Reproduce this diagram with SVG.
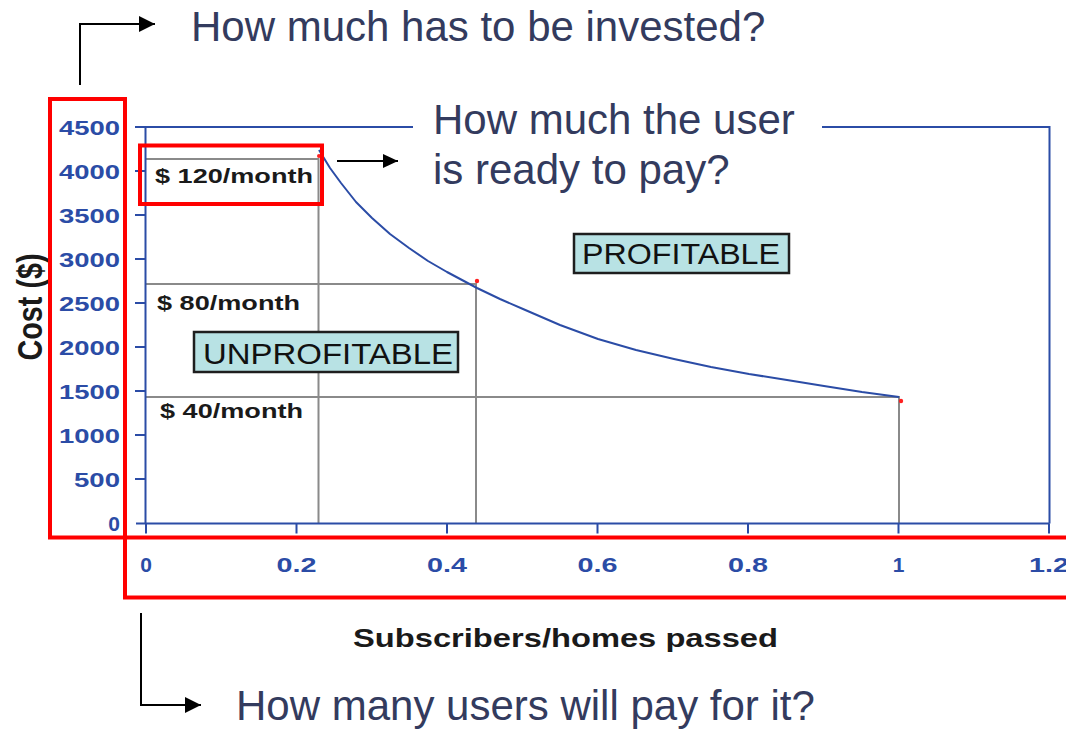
<svg xmlns="http://www.w3.org/2000/svg" width="1066" height="730" viewBox="0 0 1066 730">
<defs>
<marker id="arrow" markerUnits="userSpaceOnUse" markerWidth="16" markerHeight="16" refX="16" refY="8" orient="auto"><path d="M0,0 L16,8 L0,16 z" fill="#000"/></marker>
<marker id="arrow-s" markerUnits="userSpaceOnUse" markerWidth="15" markerHeight="14" refX="15" refY="7" orient="auto"><path d="M0,0 L15,7 L0,14 z" fill="#000"/></marker>
</defs>
<style>
.q{font-family:"Liberation Sans",Arial,sans-serif;font-size:42px;fill:#333b5e}
.ax{fill:none;stroke:#2b4ca6;stroke-width:2}
.tk{font-family:"Liberation Sans",Arial,sans-serif;font-size:21px;font-weight:bold;fill:#2b4ca6}
.ref{stroke:#8a8a8a;stroke-width:2;fill:none}
.lbl{font-family:"Liberation Sans",Arial,sans-serif;font-size:21px;font-weight:bold;fill:#1a1a1a}
.zone{fill:#b8e2e4;stroke:#1e1e1e;stroke-width:2.5}
.zt{font-family:"Liberation Sans",Arial,sans-serif;font-size:30px;fill:#111}
.hl{fill:none;stroke:#ff0000;stroke-width:4}
.conn{fill:none;stroke:#000;stroke-width:2}
.dot{fill:#ff2020}
.curve{fill:none;stroke:#2b4ca6;stroke-width:2;stroke-linejoin:round}
</style>
<rect width="1066" height="730" fill="#fff"/>

<g id="chart">
  <g id="reference-lines">
    <path class="ref" d="M146,159 H318.5 V523.5"/>
    <path class="ref" d="M146,284 H476 V523.5"/>
    <path class="ref" d="M146,397 H899 V523.5"/>
  </g>
  <g id="axes">
    <path class="ax" d="M135,127 H413 M822,127 H1049.5 V523.5"/>
    <path class="ax" d="M145.5,127 V523.5 M136,523.5 H1049.5"/>
    <path class="ax" d="M135,171 h10.5 M135,215 h10.5 M135,259 h10.5 M135,303 h10.5 M135,347 h10.5 M135,391 h10.5 M135,435 h10.5 M135,479 h10.5"/>
    <path class="ax" d="M146,523.5 v10 M296.5,523.5 v10 M447,523.5 v10 M597.5,523.5 v10 M748,523.5 v10 M898.5,523.5 v10 M1049,523.5 v10"/>
  </g>
  <g id="y-labels" text-anchor="end">
    <text class="tk" x="120" y="135" textLength="61" lengthAdjust="spacingAndGlyphs">4500</text>
    <text class="tk" x="120" y="179" textLength="61" lengthAdjust="spacingAndGlyphs">4000</text>
    <text class="tk" x="120" y="223" textLength="61" lengthAdjust="spacingAndGlyphs">3500</text>
    <text class="tk" x="120" y="267" textLength="61" lengthAdjust="spacingAndGlyphs">3000</text>
    <text class="tk" x="120" y="311" textLength="61" lengthAdjust="spacingAndGlyphs">2500</text>
    <text class="tk" x="120" y="355" textLength="61" lengthAdjust="spacingAndGlyphs">2000</text>
    <text class="tk" x="120" y="399" textLength="61" lengthAdjust="spacingAndGlyphs">1500</text>
    <text class="tk" x="120" y="443" textLength="61" lengthAdjust="spacingAndGlyphs">1000</text>
    <text class="tk" x="120" y="487" textLength="46" lengthAdjust="spacingAndGlyphs">500</text>
    <text class="tk" x="120" y="531">0</text>
  </g>
  <g id="x-labels" text-anchor="middle">
    <text class="tk" x="146" y="572">0</text>
    <text class="tk" x="296.5" y="572" textLength="40" lengthAdjust="spacingAndGlyphs">0.2</text>
    <text class="tk" x="447" y="572" textLength="40" lengthAdjust="spacingAndGlyphs">0.4</text>
    <text class="tk" x="597.5" y="572" textLength="40" lengthAdjust="spacingAndGlyphs">0.6</text>
    <text class="tk" x="748" y="572" textLength="40" lengthAdjust="spacingAndGlyphs">0.8</text>
    <text class="tk" x="898.5" y="572">1</text>
    <text class="tk" x="1049" y="572" textLength="40" lengthAdjust="spacingAndGlyphs">1.2</text>
  </g>
  <text id="y-title" class="lbl" transform="translate(42,307) scale(1.3,1) rotate(-90)" text-anchor="middle" style="font-size:27px" textLength="107" lengthAdjust="spacingAndGlyphs">Cost ($)</text>
  <text id="x-title" class="lbl" x="353" y="647" style="font-size:26px" textLength="425" lengthAdjust="spacingAndGlyphs">Subscribers/homes passed</text>
  <path id="cost-curve" class="curve" d="M319,150 L330,168 L341,183 L356,202 L372,218 L390,234 L409,248 L428,261 L447,272 L462,280 L477,288 L500,299 L523,309 L560,325 L598,339 L636,350 L674,359 L711,367 L749,374 L787,380 L824,386 L862,392 L899,397"/>
  <circle class="dot" cx="319" cy="156" r="2"/>
  <circle class="dot" cx="477" cy="281" r="2.2"/>
  <circle class="dot" cx="901" cy="401" r="2.2"/>
  <text class="lbl" x="155" y="183" textLength="158" lengthAdjust="spacingAndGlyphs">$ 120/month</text>
  <text class="lbl" x="157" y="310" textLength="143" lengthAdjust="spacingAndGlyphs">$ 80/month</text>
  <text class="lbl" x="160" y="418" textLength="143" lengthAdjust="spacingAndGlyphs">$ 40/month</text>
</g>

<g id="unprofitable">
  <rect class="zone" x="194" y="332" width="264" height="40"/>
  <text class="zt" x="203" y="364" textLength="250" lengthAdjust="spacingAndGlyphs">UNPROFITABLE</text>
</g>
<g id="profitable">
  <rect class="zone" x="574" y="234" width="215" height="39"/>
  <text class="zt" x="582" y="264" textLength="198" lengthAdjust="spacingAndGlyphs">PROFITABLE</text>
</g>

<g id="highlight-cost">
  <rect class="hl" x="50" y="99" width="75" height="438.5"/>
</g>
<g id="highlight-users">
  <rect class="hl" x="125" y="537.5" width="960" height="60"/>
</g>
<g id="highlight-price">
  <rect class="hl" x="140" y="145.5" width="182" height="58.5"/>
</g>

<g id="connectors">
  <path class="conn" d="M80,85 V24 H155" marker-end="url(#arrow)"/>
  <path class="conn" d="M337,161 H398" marker-end="url(#arrow-s)"/>
  <path class="conn" d="M141,613 V705 H201" marker-end="url(#arrow)"/>
</g>

<g id="question-invest">
  <text class="q" x="191" y="41">How much has to be invested?</text>
</g>
<g id="question-pay">
  <text class="q" x="433" y="134">How much the user</text>
  <text class="q" x="433" y="184">is ready to pay?</text>
</g>
<g id="question-users">
  <text class="q" x="236" y="720">How many users will pay for it?</text>
</g>
</svg>
